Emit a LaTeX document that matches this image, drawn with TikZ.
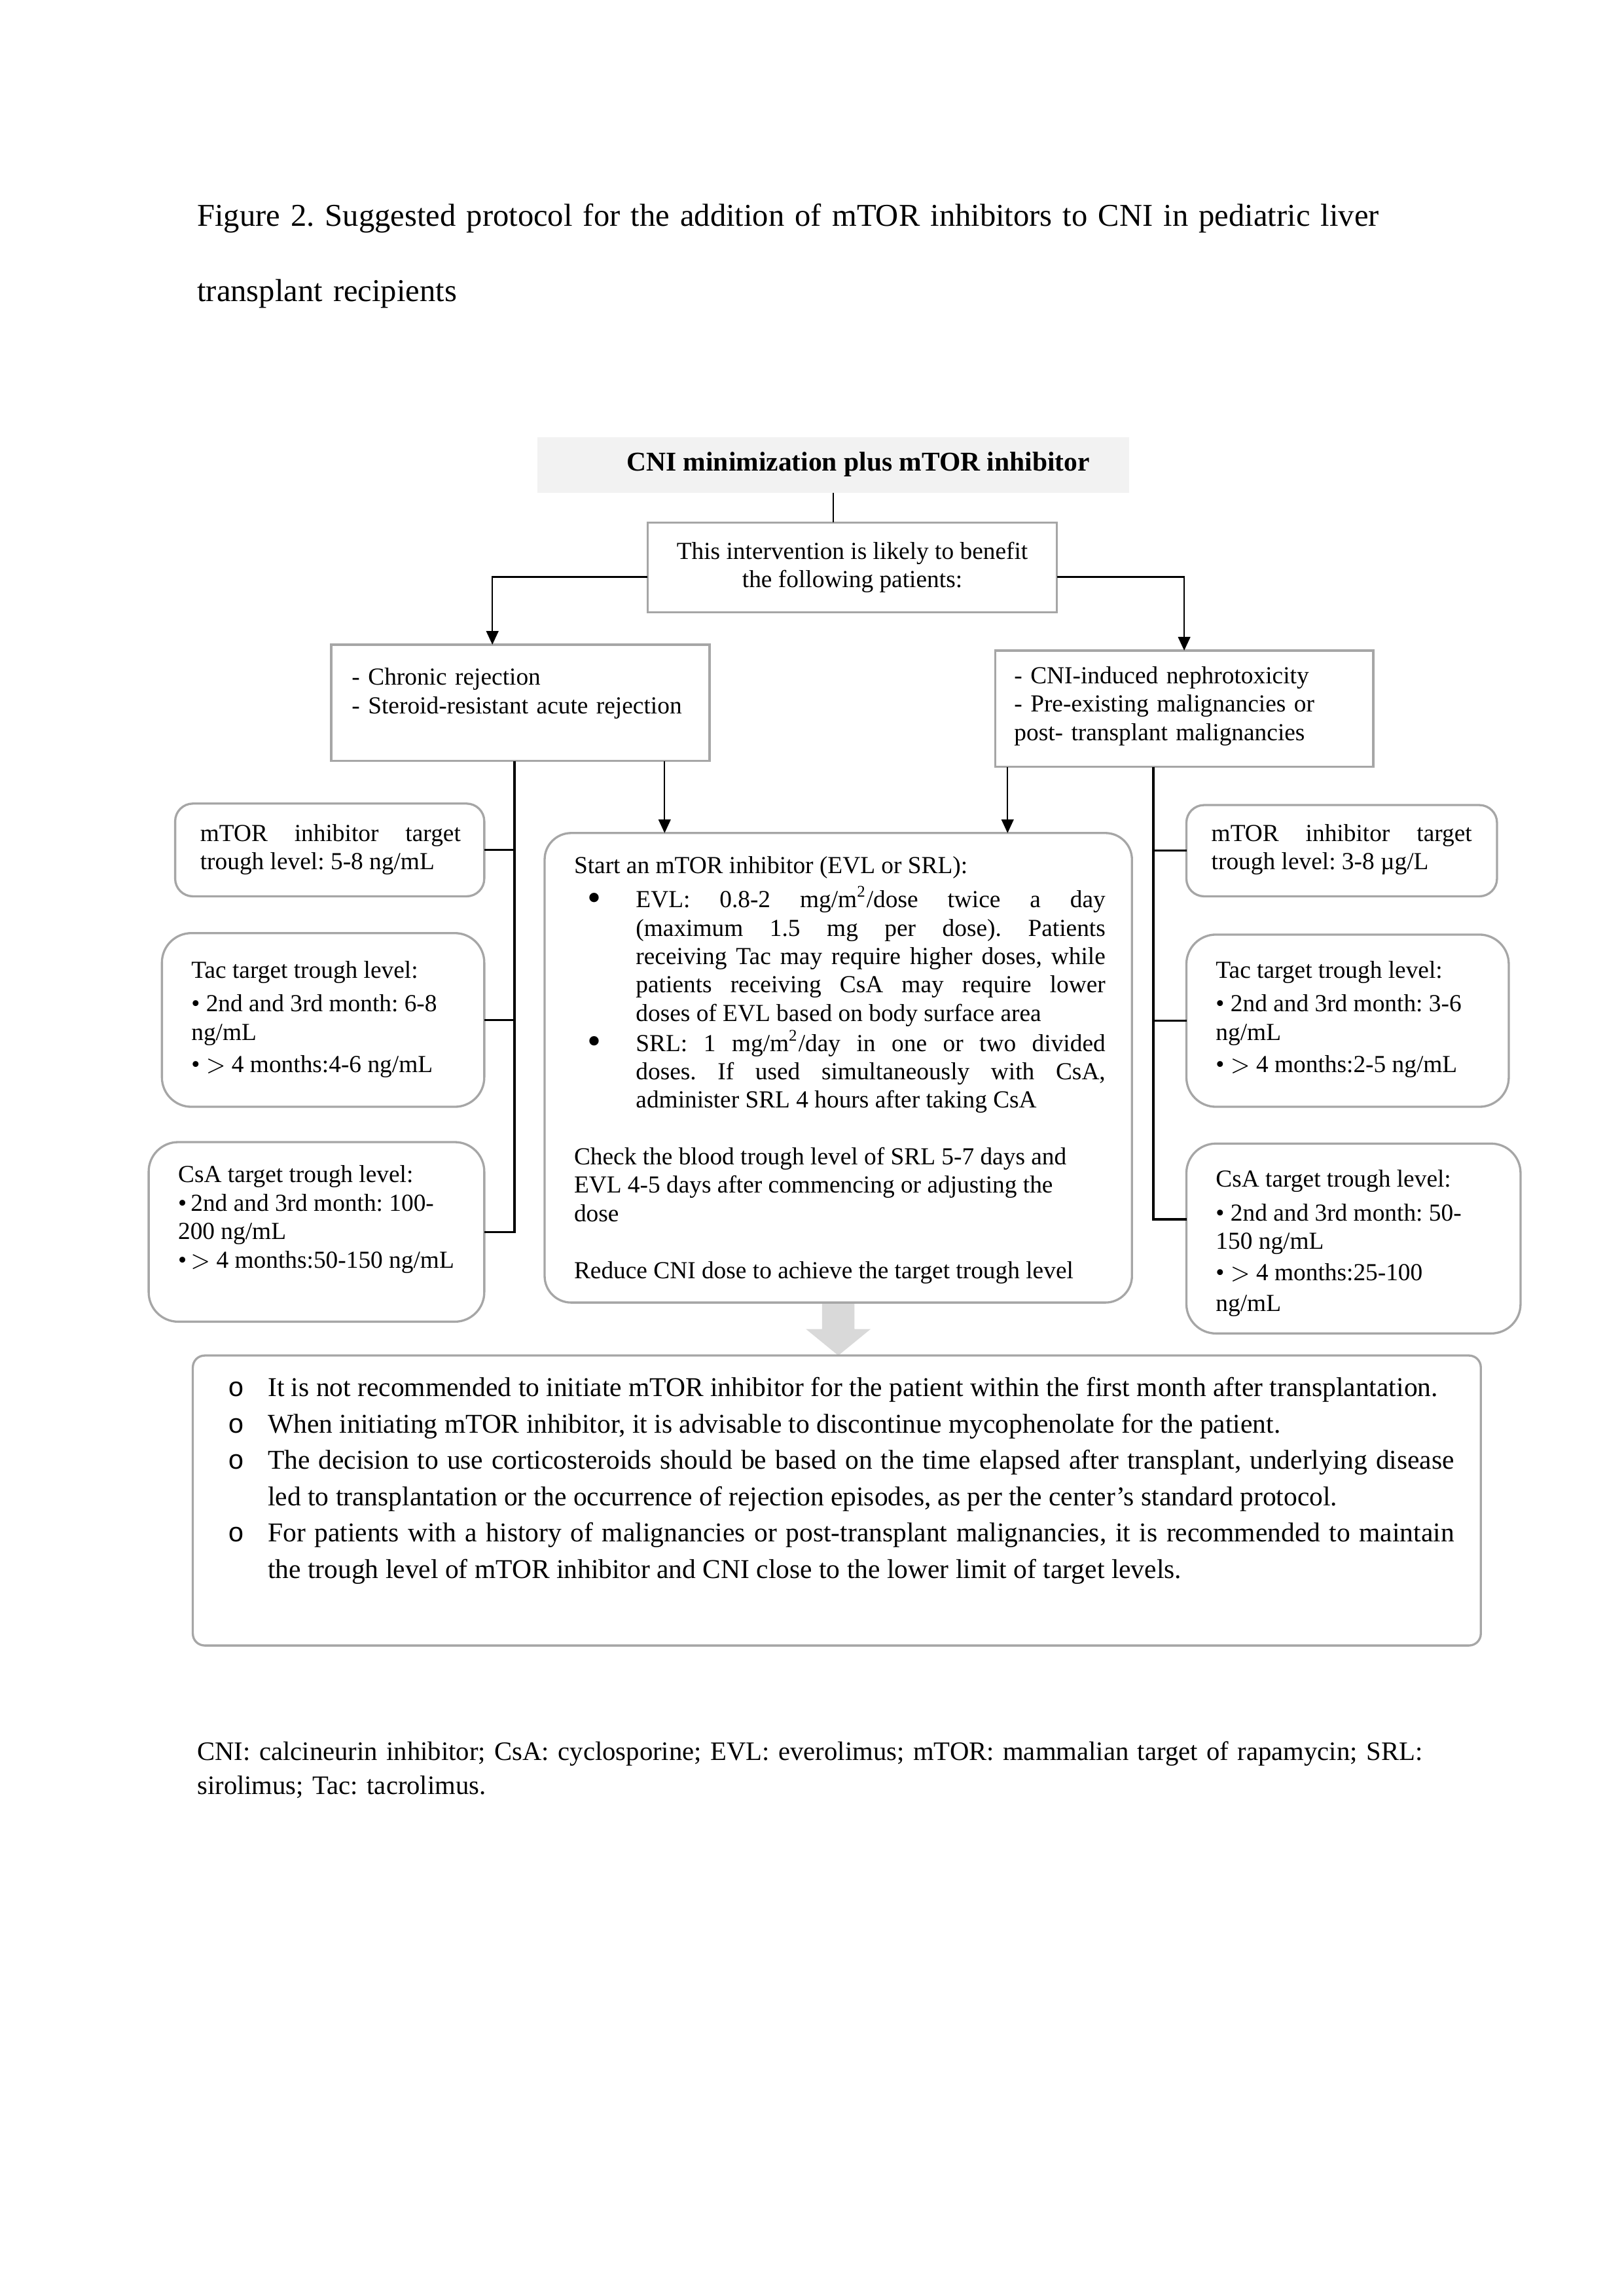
\documentclass[tikz,border=0pt]{standalone}
\usepackage{fontspec}
\usepackage{graphicx}
\setmainfont{Liberation Serif}
\newfontfamily\ofont{Liberation Mono}
\usetikzlibrary{arrows.meta,backgrounds}
\frenchspacing
\hyphenpenalty=10000
\exhyphenpenalty=10000

\newlength{\pix}\setlength{\pix}{0.19039mm} % one pixel of the page layout
\newcommand{\bigdot}{\raisebox{-0.12em}{\scalebox{1.6}{\textbullet}}}
\newcommand{\dotitem}[1]{\par\vspace{0.6pt}\hangindent=42\pix\hangafter=1\noindent\makebox[42\pix][l]{\hspace{9\pix}\bigdot}#1\par}
\newcommand{\oitem}[1]{\par\hangindent=27\pix\hangafter=1\noindent\strut\makebox[27\pix][l]{\ofont o}#1\par}

\tikzset{
  box/.style={draw=black!35, line width=0.8pt, inner sep=0pt, outer sep=0pt, anchor=north west},
  headbox/.style={fill=black!5, inner sep=0pt, outer sep=0pt, anchor=north west},
  txt/.style={anchor=north west, inner sep=0pt, outer sep=0pt, text width=#1, align=justify, font=\fontsize{9}{10.45}\selectfont},
  link/.style={line width=0.5pt},
  bar/.style={line width=0.8pt},
  arr/.style={line width=0.5pt, -{Triangle[length=5pt,width=4.5pt]}},
}

\begin{document}
\begin{tikzpicture}[x=\pix, y=-\pix]
\useasboundingbox (0,0) rectangle (1103,1560);

%% caption
\node[txt=900\pix, align=left, font=\fontsize{11.7}{27.6}\selectfont] (title) at (134,118) {\strut Figure 2. Suggested protocol for the addition of mTOR inhibitors to CNI in pediatric liver\\ transplant recipients};

%% boxes
\node[headbox, minimum width=402\pix, minimum height=38\pix] (head) at (365,297) {};
\node[anchor=base, inner sep=0pt, font=\fontsize{10}{12}\selectfont\bfseries] (headtxt) at (583,320) {CNI minimization plus mTOR inhibitor};

\node[box, minimum width=278\pix, minimum height=61\pix, align=center, font=\fontsize{9}{10.45}\selectfont] (inter) at (440,355) {This intervention is likely to benefit\\the following patients:};

\node[box, minimum width=257\pix, minimum height=79\pix] (chronic) at (225,438) {};
\node[box, minimum width=257\pix, minimum height=79\pix] (nephro) at (676,442) {};
\node[box, rounded corners=18\pix, minimum width=399\pix, minimum height=319\pix] (protocol) at (370,566) {};

\node[box, rounded corners=12\pix, minimum width=210\pix, minimum height=63\pix] (ltrough) at (119,546) {};
\node[box, rounded corners=20\pix, minimum width=219\pix, minimum height=118\pix] (ltac) at (110,634) {};
\node[box, rounded corners=20\pix, minimum width=228\pix, minimum height=122\pix] (lcsa) at (101,776) {};

\node[box, rounded corners=12\pix, minimum width=211\pix, minimum height=62\pix] (rtrough) at (806,547) {};
\node[box, rounded corners=20\pix, minimum width=219\pix, minimum height=117\pix] (rtac) at (806,635) {};
\node[box, rounded corners=20\pix, minimum width=227\pix, minimum height=129\pix] (rcsa) at (806,777) {};

\node[box, rounded corners=8\pix, minimum width=875\pix, minimum height=197\pix] (notes) at (131,921) {};

%% texts in the boxes
\node[txt=240\pix, align=left] (chronictxt) at (239,452) {\strut - Chronic rejection\\ - Steroid-resistant acute rejection};
\node[txt=240\pix, align=left] (nephrotxt) at (689,451) {\strut - CNI-induced nephrotoxicity\\ - Pre-existing malignancies or\\ post- transplant malignancies};

\node[txt=361\pix] (protocoltxt) at (390,580) {\strut Start an mTOR inhibitor (EVL or SRL):\par
  \dotitem{EVL: 0.8-2 mg/m\textsuperscript{2}/dose twice a day\linebreak (maximum 1.5 mg per dose). Patients\linebreak receiving Tac may require higher doses, while\linebreak patients receiving CsA may require lower\linebreak doses of EVL based on body surface area}
  \dotitem{SRL: 1 mg/m\textsuperscript{2}/day in one or two divided\linebreak doses. If used simultaneously with CsA,\linebreak administer SRL 4 hours after taking CsA}
  \vspace{10.45pt}
  \noindent Check the blood trough level of SRL 5-7 days and\\ EVL 4-5 days after commencing or adjusting the\\ dose\par
  \vspace{10.45pt}
  \noindent Reduce CNI dose to achieve the target trough level};

\node[txt=177\pix] (ltroughtxt) at (136,558) {\strut mTOR inhibitor target\linebreak trough level: 5-8 ng/mL};
\node[txt=190\pix] (ltactxt) at (130,651) {\strut Tac target trough level:\\[2pt] \textbullet\ 2nd and 3rd month: 6-8\\ ng/mL\\[1.5pt] \textbullet\ $>$ 4 months:4-6 ng/mL};
\node[txt=200\pix] (lcsatxt) at (121,790) {\strut CsA target trough level:\\ \textbullet\,2nd and 3rd month: 100-\\ 200 ng/mL\\ \textbullet\,$>$ 4 months:50-150 ng/mL};

\node[txt=177\pix] (rtroughtxt) at (823,558) {\strut mTOR inhibitor target\linebreak trough level: 3-8 µg/L};
\node[txt=195\pix] (rtactxt) at (826,651) {\strut Tac target trough level:\\[2pt] \textbullet\ 2nd and 3rd month: 3-6\\ ng/mL\\[1.5pt] \textbullet\ $>$ 4 months:2-5 ng/mL};
\node[txt=200\pix] (rcsatxt) at (826,793) {\strut CsA target trough level:\\[2pt] \textbullet\ 2nd and 3rd month: 50-\\ 150 ng/mL\\[1pt] \textbullet\ $>$ 4 months:25-100\\[1pt] ng/mL};

\node[txt=833\pix, font=\fontsize{10}{13.4}\selectfont] (notestxt) at (155,924) {%
  \oitem{It is not recommended to initiate mTOR inhibitor for the patient within the first month after transplantation.}
  \oitem{When initiating mTOR inhibitor, it is advisable to discontinue mycophenolate for the patient.}
  \oitem{The decision to use corticosteroids should be based on the time elapsed after transplant, underlying disease\linebreak led to transplantation or the occurrence of rejection episodes, as per the center's standard protocol.}
  \oitem{For patients with a history of malignancies or post-transplant malignancies, it is recommended to maintain\linebreak the trough level of mTOR inhibitor and CNI close to the lower limit of target levels.}};

%% abbreviations
\node[txt=880\pix, align=left, font=\fontsize{9.8}{12.5}\selectfont] (abbrev) at (134,1180) {\strut CNI: calcineurin inhibitor; CsA: cyclosporine; EVL: everolimus; mTOR: mammalian target of rapamycin; SRL:\\ sirolimus; Tac: tacrolimus.};

%% connectors
\draw[link] (head.south) -- (head.south |- inter.north);
\coordinate (il) at ([yshift=-6.5\pix]inter.west);
\coordinate (ir) at ([yshift=-6.5\pix]inter.east);
\draw[arr] (il) -| ([xshift=-19\pix]chronic.north);
\draw[arr] (ir) -| (nephro.north);

\coordinate (cl) at ([xshift=98\pix]chronic.south);
\coordinate (cr) at ([xshift=-120\pix]nephro.south);
\draw[arr] (cl) -- (cl |- protocol.north);
\draw[arr] (cr) -- (cr |- protocol.north);

\coordinate (lbar) at ([xshift=-4\pix]chronic.south); % left bracket
\draw[bar] (lbar) |- (lcsa.east);
\draw[bar] (ltrough.east) -- (ltrough.east -| lbar);
\draw[bar] (ltac.east) -- (ltac.east -| lbar);

\coordinate (rbar) at ([xshift=-21\pix]nephro.south); % right bracket
\coordinate (rcsaw) at ([yshift=13\pix]rcsa.west);
\draw[bar] (rbar) |- (rcsaw);
\draw[bar] (rtrough.west) -- (rtrough.west -| rbar);
\draw[bar] (rtac.west) -- (rtac.west -| rbar);

%% big grey arrow
\coordinate (tip) at (protocol.south |- notes.north);
\begin{scope}[on background layer]
\fill[black!15] ([xshift=-11\pix]protocol.south) -- ([xshift=-11\pix,yshift=18\pix]tip) -- ([xshift=-22\pix,yshift=18\pix]tip) -- (tip)
  -- ([xshift=22\pix,yshift=18\pix]tip) -- ([xshift=11\pix,yshift=18\pix]tip) -- ([xshift=11\pix]protocol.south) -- cycle;
\end{scope}

\end{tikzpicture}
\end{document}
